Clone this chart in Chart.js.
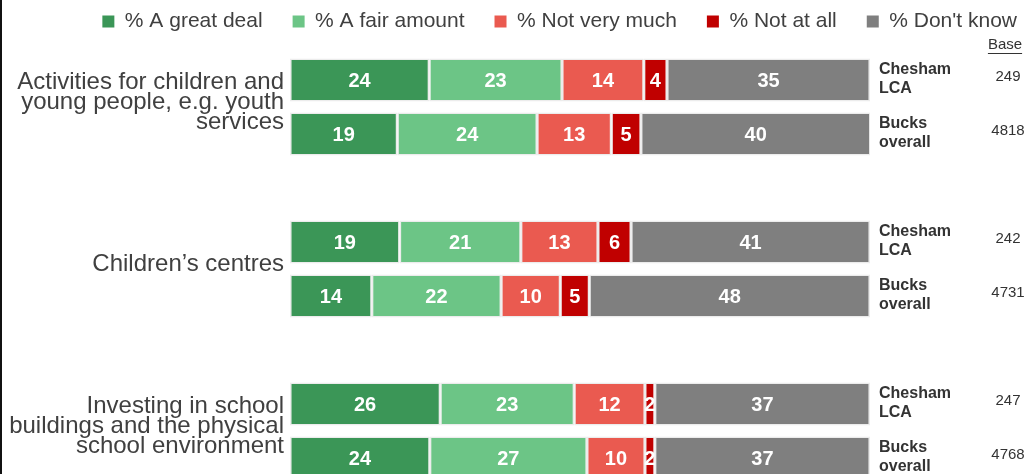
<!DOCTYPE html>
<html>
<head>
<meta charset="utf-8">
<script src="https://cdn.jsdelivr.net/npm/chart.js@4/dist/chart.umd.min.js"></script>
<style>
  html, body { margin: 0; padding: 0; background: #fff; overflow: hidden; }
  #wrap { position: relative; width: 1031px; height: 490px; }
  #edge { position: absolute; left: 0; top: 0; width: 2px; height: 474px; background: #111; }
</style>
</head>
<body>
<div id="wrap"><canvas id="chart" width="1031" height="490"></canvas><div id="edge"></div></div>
<script>
// ── Data ──────────────────────────────────────────────────────────────────
const topics = [
  ['Activities for children and', 'young people, e.g. youth', 'services'],
  ['Children\u2019s centres'],
  ['Investing in school', 'buildings and the physical', 'school environment'],
];
const areas  = [['Chesham', 'LCA'], ['Bucks', 'overall']];
const bases  = [249, 4818, 242, 4731, 247, 4768];

const seriesNames = ['% A great deal', '% A fair amount', '% Not very much', '% Not at all', "% Don't know"];
const greatDeal   = [24.0, 18.5, 18.9, 14.1, 25.9, 24.1];
const fairAmount  = [22.9, 24.1, 20.9, 22.3, 23.1, 27.1];
const notVeryMuch = [14.1, 12.8, 13.3, 10.2, 12.2, 10.0];
const notAtAll    = [4.0,  5.1,  5.7,  5.0,  1.7,  1.7];
const dontKnow    = [35.0, 39.6, 41.2, 48.4, 37.1, 37.1];
const colors      = ['#3b9657', '#6cc586', '#ea5a50', '#c00000', '#7f7f7f'];

// rows: 2 bars per topic + an empty spacer row between topics
const rowOf = i => Math.floor(i / 2) * 3 + (i % 2);
const nRows = topics.length * 3 - 1;
const spread = vals => {
  const out = new Array(nRows).fill(null);
  vals.forEach((v, i) => { out[rowOf(i)] = v; });
  return out;
};
const rowLabels = spread(bases.map((b, i) => areas[i % 2].join(' '))).map(l => l || '');

// ── Plugins ───────────────────────────────────────────────────────────────
const FONT = '"Liberation Sans", Arial, sans-serif';

// give the legend a bit more room underneath
const legendRoom = {
  id: 'legendRoom',
  beforeInit(chart) {
    const fit = chart.legend.fit;
    chart.legend.fit = function () {
      fit.call(this);
      this.height += 11;
    };
  },
};

const valueLabels = {
  id: 'valueLabels',
  afterDatasetsDraw(chart) {
    const { ctx } = chart;
    ctx.save();
    ctx.fillStyle = '#ffffff';
    ctx.font = 'bold 20px ' + FONT;
    ctx.textAlign = 'center';
    ctx.textBaseline = 'middle';
    chart.data.datasets.forEach((ds, di) => {
      chart.getDatasetMeta(di).data.forEach((el, j) => {
        const v = ds.data[j];
        if (v == null) return;
        const { x, base, y } = el.getProps(['x', 'base', 'y'], true);
        ctx.fillText(String(Math.round(v)), (x + base) / 2, y + 1);
      });
    });
    ctx.restore();
  },
};

const sideText = {
  id: 'sideText',
  afterDraw(chart) {
    const { ctx, chartArea } = chart;
    const yS = chart.scales.y;
    ctx.save();
    ctx.textBaseline = 'middle';

    // topic labels on the left
    ctx.fillStyle = '#404040';
    ctx.font = '24px ' + FONT;
    ctx.textAlign = 'right';
    topics.forEach((lines, g) => {
      const yc = (yS.getPixelForValue(g * 3) + yS.getPixelForValue(g * 3 + 1)) / 2;
      const lh = 20;
      lines.forEach((t, k) => {
        ctx.fillText(t, chartArea.left - 6, yc + (k - (lines.length - 1) / 2) * lh - 5);
      });
    });

    // area labels + bases on the right
    bases.forEach((b, i) => {
      const yc = yS.getPixelForValue(rowOf(i));
      ctx.fillStyle = '#333333';
      ctx.font = 'bold 16px ' + FONT;
      ctx.textAlign = 'left';
      const [l1, l2] = areas[i % 2];
      ctx.fillText(l1, chartArea.right + 9, yc - 10);
      ctx.fillText(l2, chartArea.right + 9, yc + 9);
      ctx.font = '15px ' + FONT;
      ctx.textAlign = 'center';
      ctx.fillText(String(b), 1008, yc - 3);
    });

    // "Base" header
    ctx.font = '15px ' + FONT;
    ctx.textAlign = 'center';
    ctx.fillStyle = '#333333';
    ctx.fillText('Base', 1005, 45);
    const w = ctx.measureText('Base').width;
    ctx.fillRect(1005 - w / 2, 53, w, 1);
    ctx.restore();
  },
};

// ── Chart ─────────────────────────────────────────────────────────────────
const seriesValues = [greatDeal, fairAmount, notVeryMuch, notAtAll, dontKnow];

new Chart(document.getElementById('chart'), {
  type: 'bar',
  data: {
    labels: rowLabels,
    datasets: seriesNames.map((name, k) => ({
      label: name,
      data: spread(seriesValues[k]),
      backgroundColor: colors[k],
      borderColor: '#ececec',
      borderWidth: 1.5,
      borderSkipped: false,
      barPercentage: 0.8,
      categoryPercentage: 1,
    })),
  },
  options: {
    indexAxis: 'y',
    responsive: false,
    devicePixelRatio: 1,
    animation: false,
    layout: { padding: { left: 0, right: -16, top: -19, bottom: 5 } },
    plugins: {
      tooltip: { enabled: false },
      legend: {
        position: 'top',
        align: 'end',
        labels: {
          color: '#404040',
          font: { family: FONT, size: 21 },
          boxWidth: 12,
          boxHeight: 12,
          padding: 30,
          generateLabels: chart =>
            Chart.defaults.plugins.legend.labels.generateLabels(chart)
              .map(l => ({ ...l, strokeStyle: l.fillStyle, lineWidth: 0 })),
        },
      },
    },
    scales: {
      x: { stacked: true, min: 0, max: 100, display: false },
      y: {
        stacked: true,
        position: 'left',
        grid: { display: false },
        border: { display: false },
        ticks: { display: false },
        afterFit: s => { s.width = 290; },
      },
      yRight: {
        type: 'category',
        position: 'right',
        grid: { display: false },
        border: { display: false },
        ticks: { display: false },
        afterFit: s => { s.width = 177; },
      },
    },
  },
  plugins: [legendRoom, valueLabels, sideText],
});
</script>
</body>
</html>
